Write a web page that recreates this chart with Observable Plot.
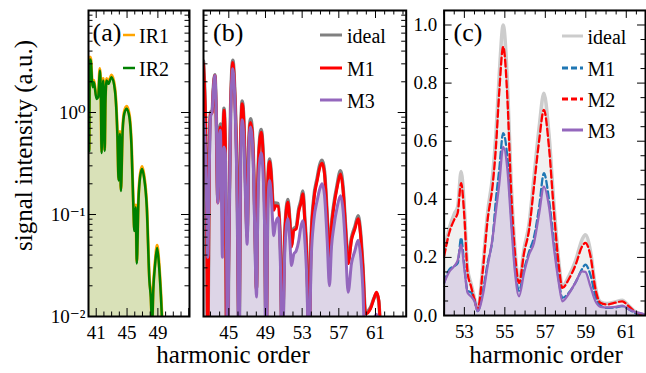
<!DOCTYPE html>
<html>
<head>
<meta charset="utf-8">
<script src="https://cdn.jsdelivr.net/npm/d3@7"></script>
<script src="https://cdn.jsdelivr.net/npm/@observablehq/plot@0.6"></script>
<style>
  body { margin: 0; background: #fff; }
  #chart { position: relative; width: 646px; height: 373px; overflow: hidden; background: #fff;
           font-family: "Liberation Serif", "DejaVu Serif", serif; }
  #chart > svg { position: absolute; left: 0; top: 0; }
  #chart text { font-family: "Liberation Serif", "DejaVu Serif", serif; }
</style>
</head>
<body>
<div id="chart"></div>
<script>
// ---------------- data ----------------
// Panel (a): log-scale spectra, two IR drivers
const xA = [40.09, 40.2, 40.3, 40.52, 40.7, 41.04, 41.26, 41.47, 41.6, 41.7, 41.8, 41.9, 42.0, 42.1, 42.2, 42.35, 42.57, 43.0, 43.43, 43.74, 43.91, 44.08, 44.2, 44.43, 44.65, 44.95, 45.3, 45.6, 45.82, 45.95, 46.13, 46.26, 46.48, 46.69, 46.95, 47.2, 47.56, 47.9, 48.08, 48.25, 48.4, 48.65, 48.9, 49.13, 49.4, 49.65];
const ir1 = [0.44, 3.5, 3.35, 1.85, 2.07, 1.42, 1.47, 2.7, 1.56, 0.42, 1.25, 2.15, 1.25, 0.44, 1.36, 2.15, 2.0, 2.33, 1.72, 0.65, 0.225, 0.65, 0.178, 0.7, 1.03, 1.15, 0.95, 0.44, 0.124, 0.072, 0.124, 0.035, 0.144, 0.244, 0.295, 0.244, 0.124, 0.0236, 0.0165, 0.0085, 0.019, 0.035, 0.05, 0.035, 0.0165, 0.0065];
const ir2 = [0.42, 3.3, 3.2, 1.77, 1.98, 1.36, 1.41, 2.58, 1.5, 0.40, 1.2, 2.06, 1.2, 0.42, 1.3, 2.06, 1.91, 2.22, 1.64, 0.62, 0.215, 0.62, 0.17, 0.67, 0.98, 1.09, 0.90, 0.42, 0.118, 0.069, 0.118, 0.033, 0.137, 0.232, 0.28, 0.232, 0.118, 0.0224, 0.0155, 0.008, 0.018, 0.033, 0.047, 0.033, 0.0155, 0.006];

// Panel (b): log-scale spectra
const xB = [42.24, 42.35, 42.46, 42.6, 42.71, 42.86, 43.0, 43.19, 43.3, 43.48,
  43.62, 43.8, 43.97, 44.08, 44.2, 44.3, 44.38, 44.47, 44.62, 44.75,
  44.85, 45.0, 45.19, 45.44, 45.66, 45.91, 46.13, 46.28, 46.46, 46.64,
  46.82, 47.0, 47.19, 47.37, 47.55, 47.73, 47.91, 48.02, 48.17, 48.35,
  48.53, 48.71, 48.9, 49.08, 49.26, 49.44, 49.62, 49.8, 49.91, 50.09,
  50.38, 50.64, 50.82, 51.11, 51.44, 51.65, 51.84, 52.09, 52.35, 52.64,
  52.85, 53.07, 53.29, 53.54, 53.73, 53.98, 54.27, 54.64, 54.93, 55.18,
  55.44, 55.73, 55.98, 56.2, 56.45, 56.82, 57.18, 57.47, 57.73, 58.02,
  58.38, 58.75, 59.11, 59.36, 59.62, 59.91, 60.45, 60.82, 61.11, 61.36,
  61.58, 61.8];
const idealB = [3.2, 1.9, 0.85, 0.065, 0.004, 0.32, 1.0, 1.05, 1.65, 2.35,
  1.05, 0.14, 0.65, 0.77, 0.37, 0.27, 0.63, 1.1, 0.52, 0.004,
  0.002, 0.05, 1.05, 3.25, 1.55, 0.21, 0.004, 0.47, 1.3, 0.84,
  0.21, 0.063, 0.53, 0.87, 0.69, 0.26, 0.042, 0.019, 0.21, 0.53,
  0.68, 0.47, 0.125, 0.004, 0.21, 0.35, 0.26, 0.135, 0.115, 0.13,
  0.128, 0.046, 0.004, 0.068, 0.14, 0.09, 0.05, 0.073, 0.076, 0.115,
  0.135, 0.17, 0.092, 0.032, 0.004, 0.059, 0.145, 0.228, 0.31, 0.34,
  0.265, 0.099, 0.035, 0.079, 0.125, 0.196, 0.268, 0.182, 0.079, 0.035,
  0.059, 0.076, 0.097, 0.069, 0.032, 0.011, 0.0122, 0.015, 0.0168, 0.014,
  0.006, 0.002];
const m1B = [3.0, 1.8, 0.8, 0.06, 0.004, 0.3, 0.95, 1.0, 1.6, 2.3,
  1.0, 0.13, 0.6, 0.72, 0.35, 0.25, 0.6, 1.05, 0.5, 0.004,
  0.002, 0.05, 1.0, 3.1, 1.5, 0.2, 0.004, 0.45, 1.22, 0.8,
  0.2, 0.06, 0.5, 0.8, 0.65, 0.25, 0.04, 0.018, 0.2, 0.5,
  0.64, 0.45, 0.12, 0.004, 0.2, 0.33, 0.25, 0.13, 0.11, 0.122,
  0.12, 0.044, 0.004, 0.065, 0.132, 0.087, 0.048, 0.07, 0.072, 0.109,
  0.127, 0.16, 0.087, 0.0305, 0.004, 0.056, 0.137, 0.215, 0.29, 0.318,
  0.25, 0.094, 0.033, 0.075, 0.118, 0.185, 0.25, 0.172, 0.075, 0.033,
  0.056, 0.072, 0.091, 0.065, 0.0305, 0.0106, 0.0119, 0.0149, 0.0173, 0.0144,
  0.006, 0.002];
const m3B = [0.9, 0.7, 0.4, 0.1, 0.038, 0.25, 0.9, 1.05, 1.6, 2.3,
  1.1, 0.13, 0.6, 0.67, 0.15, 0.038, 0.3, 0.46, 0.40, 0.05,
  0.003, 0.04, 0.9, 2.68, 1.3, 0.137, 0.003, 0.3, 0.85, 0.55,
  0.15, 0.051, 0.45, 0.72, 0.55, 0.2, 0.03, 0.0155, 0.12, 0.32,
  0.40, 0.28, 0.08, 0.003, 0.12, 0.215, 0.16, 0.08, 0.062, 0.081,
  0.093, 0.03, 0.003, 0.044, 0.091, 0.056, 0.0316, 0.041, 0.044, 0.056,
  0.075, 0.087, 0.056, 0.019, 0.003, 0.035, 0.087, 0.137, 0.179, 0.20,
  0.153, 0.056, 0.020, 0.048, 0.075, 0.118, 0.153, 0.109, 0.048, 0.0173,
  0.033, 0.044, 0.056, 0.041, 0.019, 0.004, 0.0085, 0.0095, 0.0105, 0.008,
  0.004, 0.002];

// Panel (c): linear-scale spectra
const xC = [52.0, 52.25, 52.5, 52.67, 52.84, 53.0, 53.16, 53.33, 53.5, 53.66,
  53.9, 54.15, 54.4, 54.56, 54.72, 54.92, 55.13, 55.3, 55.5, 55.7,
  55.95, 56.2, 56.44, 56.7, 56.93, 57.18, 57.43, 57.67, 57.84, 58.16,
  58.5, 58.82, 58.98, 59.23, 59.48, 59.72, 60.05, 60.46, 60.8, 61.12,
  61.45, 61.85, 62.0];
const idealC = [0.22, 0.30, 0.35, 0.375, 0.496, 0.37, 0.16, 0.11, 0.06, 0.022,
  0.16, 0.355, 0.485, 0.625, 0.825, 1.0, 0.80, 0.48, 0.23, 0.12,
  0.23, 0.318, 0.478, 0.652, 0.765, 0.625, 0.38, 0.183, 0.102, 0.135,
  0.19, 0.262, 0.278, 0.222, 0.097, 0.047, 0.041, 0.047, 0.053, 0.034,
  0.013, 0.003, 0];
const m1C = [0.112, 0.158, 0.17, 0.18, 0.267, 0.17, 0.085, 0.08, 0.055, 0.015,
  0.078, 0.181, 0.27, 0.40, 0.50, 0.628, 0.54, 0.36, 0.17, 0.085,
  0.158, 0.22, 0.27, 0.376, 0.49, 0.40, 0.25, 0.12, 0.061, 0.078,
  0.115, 0.16, 0.175, 0.14, 0.065, 0.035, 0.026, 0.028, 0.032, 0.022,
  0.008, 0.002, 0];
const m2C = [0.204, 0.284, 0.33, 0.353, 0.456, 0.34, 0.147, 0.10, 0.055, 0.021,
  0.147, 0.33, 0.45, 0.58, 0.765, 0.925, 0.742, 0.444, 0.215, 0.112,
  0.215, 0.296, 0.444, 0.605, 0.708, 0.58, 0.353, 0.17, 0.095, 0.125,
  0.175, 0.238, 0.25, 0.205, 0.09, 0.044, 0.038, 0.044, 0.049, 0.032,
  0.012, 0.003, 0];
const m3C = [0.112, 0.15, 0.17, 0.19, 0.244, 0.16, 0.078, 0.066, 0.049, 0.015,
  0.066, 0.17, 0.27, 0.36, 0.45, 0.58, 0.50, 0.33, 0.15, 0.066,
  0.147, 0.21, 0.25, 0.353, 0.444, 0.376, 0.23, 0.11, 0.049, 0.075,
  0.115, 0.152, 0.15, 0.10, 0.049, 0.03, 0.028, 0.03, 0.034, 0.022,
  0.012, 0.005, 0];

// tick labels
const xTicksA = [41, 45, 49];
const xTicksB = [45, 49, 53, 57, 61];
const xTicksC = [53, 55, 57, 59, 61];
const yTicksLog = [0.01, 0.1, 1];
const yTickLabelsLog = ["10\u207B\u00B2", "10\u207B\u00B9", "10\u2070"];
const yTicksC = [0, 0.2, 0.4, 0.6, 0.8, 1.0];
const yTickLabelsC = ["0.0", "0.2", "0.4", "0.6", "0.8", "1.0"];

// legends & labels
const legendA = [["IR1", "#ffa500", null], ["IR2", "#008000", null]];
const legendB = [["ideal", "#808080", null], ["M1", "#ff0000", null], ["M3", "#9467bd", null]];
const legendC = [["ideal", "#cccccc", null], ["M1", "#1f77b4", "6,3"], ["M2", "#ff0000", "6,3"], ["M3", "#9467bd", null]];
const xLabel = "harmonic order";
const yLabel = "signal intensity (a.u.)";
const panelLabels = ["(a)", "(b)", "(c)"];

// ---------------- build ----------------
const FONT = '"Liberation Serif", "DejaVu Serif", serif';
const W = 646, H = 373, TOP = 10, BOTTOM = 316;
const dataA = xA.map((x, i) => ({x, ir1: ir1[i], ir2: ir2[i]}));
const dataB = xB.map((x, i) => ({x, ideal: idealB[i], m1: m1B[i], m3: m3B[i]}));
const dataC = xC.map((x, i) => ({x, ideal: idealC[i], m1: m1C[i], m2: m2C[i], m3: m3C[i]}));
const curve = "monotone-x";

function frameTicks(xMajor, xMinor, yMajor, yMinor, fw, fh) {
  const M = 8, m = 4.5, sw = 1;
  return [
    Plot.tickX(xMajor, {x: d => d, insetTop: fh - M, strokeWidth: sw}),
    Plot.tickX(xMajor, {x: d => d, insetBottom: fh - M, strokeWidth: sw}),
    Plot.tickX(xMinor, {x: d => d, insetTop: fh - m, strokeWidth: sw}),
    Plot.tickX(xMinor, {x: d => d, insetBottom: fh - m, strokeWidth: sw}),
    Plot.tickY(yMajor, {y: d => d, insetRight: fw - M, strokeWidth: sw}),
    Plot.tickY(yMajor, {y: d => d, insetLeft: fw - M, strokeWidth: sw}),
    Plot.tickY(yMinor, {y: d => d, insetRight: fw - m, strokeWidth: sw}),
    Plot.tickY(yMinor, {y: d => d, insetLeft: fw - m, strokeWidth: sw}),
    Plot.frame({stroke: "black", strokeWidth: 2})
  ];
}
const style = {background: "transparent", fontFamily: FONT, fontSize: "19px", color: "black"};
const logDomain = [0.01, 10];
const logAll = d3.scaleLog().domain(logDomain).ticks();
const logMajor = [0.01, 0.1, 1, 10];
const logMinor = logAll.filter(v => !logMajor.some(t => Math.abs(t - v) < 1e-9));
const panelText = (label, dx) => Plot.text([label], {frameAnchor: "top-left", dx, dy: 22, fontSize: 26, textAnchor: "start", lineAnchor: "middle", fontFamily: FONT});

// (a)
const aL = 88, aR = 189;
const domA = [40, 53.1];
const plotA = Plot.plot({
  width: W, height: H, marginLeft: aL, marginRight: W - aR, marginTop: TOP, marginBottom: H - BOTTOM,
  style,
  x: {domain: domA, ticks: xTicksA, tickSize: 0, tickPadding: 9, label: null},
  y: {type: "log", domain: logDomain, ticks: yTicksLog, tickFormat: d => yTickLabelsLog[yTicksLog.indexOf(d)], tickSize: 0, tickPadding: 3, label: null},
  marks: [
    Plot.areaY(dataA, {x: "x", y1: 0.01, y2: "ir1", fill: "#ffa500", fillOpacity: 0.15, curve, clip: true}),
    Plot.areaY(dataA, {x: "x", y1: 0.01, y2: "ir2", fill: "#008000", fillOpacity: 0.15, curve, clip: true}),
    Plot.lineY(dataA, {x: "x", y: "ir1", stroke: "#ffa500", strokeWidth: 3, curve, clip: true}),
    Plot.lineY(dataA, {x: "x", y: "ir2", stroke: "#008000", strokeWidth: 2.5, curve, clip: true}),
    ...frameTicks([41, 45, 49, 53], d3.range(40, 54).filter(v => (v - 41) % 4 !== 0), logMajor, logMinor, aR - aL, BOTTOM - TOP),
    panelText(panelLabels[0], 4)
  ]
});

// (b)
const bL = 203, bR = 405.7;
const domB = [42.24, 64.35];
const plotB = Plot.plot({
  width: W, height: H, marginLeft: bL, marginRight: W - bR, marginTop: TOP, marginBottom: H - BOTTOM,
  style,
  x: {domain: domB, ticks: xTicksB, tickSize: 0, tickPadding: 9, label: null},
  y: {type: "log", domain: logDomain, axis: null},
  marks: [
    Plot.areaY(dataB, {x: "x", y1: 0.01, y2: "m3", fill: "#ddd5e7", curve, clip: true}),
    Plot.lineY(dataB, {x: "x", y: "ideal", stroke: "#808080", strokeWidth: 3.5, curve, clip: true}),
    Plot.lineY(dataB, {x: "x", y: "m1", stroke: "#ff0000", strokeWidth: 3, curve, clip: true}),
    Plot.lineY(dataB, {x: "x", y: "m3", stroke: "#9467bd", strokeWidth: 3, curve, clip: true}),
    ...frameTicks([45, 49, 53, 57, 61], d3.range(43, 65).filter(v => (v - 41) % 4 !== 0), logMajor, logMinor, bR - bL, BOTTOM - TOP),
    panelText(panelLabels[1], 9.5)
  ]
});

// (c)
const cL = 445, cR = 647, WC = 648;
const domC = [52, 61.95];
const plotC = Plot.plot({
  width: WC, height: H, marginLeft: cL, marginRight: WC - cR, marginTop: TOP, marginBottom: H - BOTTOM,
  style,
  x: {domain: domC, ticks: xTicksC, tickSize: 0, tickPadding: 9, label: null},
  y: {domain: [0, 1.05], ticks: yTicksC, tickFormat: d => yTickLabelsC[yTicksC.indexOf(d)], tickSize: 0, tickPadding: 7, label: null},
  marks: [
    Plot.areaY(dataC, {x: "x", y: "ideal", fill: "#f0f0f0", curve, clip: true}),
    Plot.areaY(dataC, {x: "x", y: "m3", fill: "#dcd4e6", curve, clip: true}),
    Plot.lineY(dataC, {x: "x", y: "ideal", stroke: "#cccccc", strokeWidth: 3.5, curve, clip: true}),
    Plot.lineY(dataC, {x: "x", y: "m1", stroke: "#1f77b4", strokeWidth: 2.3, strokeDasharray: "7,3.5", curve, clip: true}),
    Plot.lineY(dataC, {x: "x", y: "m2", stroke: "#ff0000", strokeWidth: 2.3, strokeDasharray: "7,3.5", curve, clip: true}),
    Plot.lineY(dataC, {x: "x", y: "m3", stroke: "#9467bd", strokeWidth: 2.3, curve, clip: true}),
    ...frameTicks([53, 55, 57, 59, 61], d3.range(52, 62, 0.5).filter(v => (v - 53) % 2 !== 0), yTicksC, d3.range(0.05, 1.05, 0.05).filter(v => Math.abs(v * 5 - Math.round(v * 5)) > 1e-6), cR - cL, BOTTOM - TOP),
    panelText(panelLabels[2], 9.5)
  ]
});

const chart = document.getElementById("chart");
[plotA, plotB, plotC].forEach(p => chart.appendChild(p));

// overlay: legends and axis titles (real text)
const ov = d3.select(chart).append("svg").attr("width", W).attr("height", H)
  .attr("font-family", FONT);
function legend(items, x1, x2, tx, ys, sw) {
  items.forEach(([label, color, dash], i) => {
    ov.append("line").attr("x1", x1).attr("x2", x2).attr("y1", ys[i]).attr("y2", ys[i])
      .attr("stroke", color).attr("stroke-width", sw).attr("stroke-dasharray", dash);
    ov.append("text").attr("x", tx).attr("y", ys[i] + 7.5).attr("font-size", 20).text(label);
  });
}
legend(legendA, 123, 135, 139, [35, 68], 2.5);
legend(legendB, 320, 342, 347, [35, 68, 100], 3);
legend(legendC, 562, 583, 587.5, [36, 68, 99, 130], 3);

ov.append("text").attr("x", 233).attr("y", 363).attr("text-anchor", "middle").attr("font-size", 25).text(xLabel);
ov.append("text").attr("x", 546).attr("y", 363).attr("text-anchor", "middle").attr("font-size", 25).text(xLabel);
ov.append("text").attr("transform", "translate(31.5,145.5) rotate(-90)").attr("text-anchor", "middle").attr("font-size", 25).text(yLabel);
</script>
</body>
</html>
